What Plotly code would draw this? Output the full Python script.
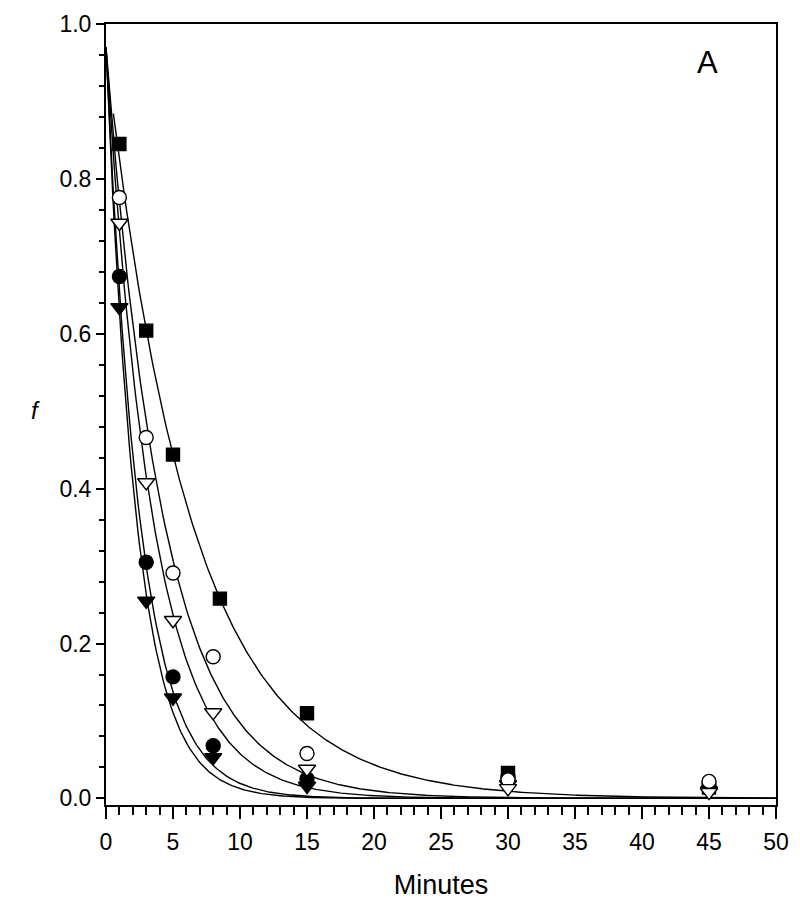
import numpy as np
import plotly.graph_objects as go

# Data (time in minutes, fraction f)
t_sq = [1, 3, 5, 8.5, 15, 30, 45]
f_sq = [0.845, 0.604, 0.444, 0.258, 0.110, 0.033, 0.014]

t_oc = [1, 3, 5, 8, 15, 30, 45]
f_oc = [0.776, 0.466, 0.291, 0.183, 0.058, 0.024, 0.022]

t_ot = [1, 3, 5, 8, 15, 30, 45]
f_ot = [0.743, 0.408, 0.230, 0.111, 0.038, 0.013, 0.008]

t_fc = [1, 3, 5, 8, 15, 30, 45]
f_fc = [0.674, 0.305, 0.157, 0.068, 0.025, 0.028, 0.017]

t_ft = [1, 3, 5, 8, 15, 30, 45]
f_ft = [0.634, 0.255, 0.130, 0.053, 0.016, 0.018, 0.010]

# Fitted single-exponential curves f = A*exp(-k t)
fit_A = [0.963, 0.97, 0.97, 0.97, 0.97]
fit_k = [0.155, 0.230, 0.282, 0.391, 0.434]
fit_t0 = [0.55, 0.0, 0.0, 0.0, 0.0]

fig = go.Figure()

for A, k, t0 in zip(fit_A, fit_k, fit_t0):
    tt = np.linspace(t0, 50, 400)
    fig.add_trace(go.Scatter(x=tt, y=A * np.exp(-k * tt), mode="lines",
                             line=dict(color="black", width=1.4),
                             hoverinfo="skip", showlegend=False))

series = [
    (t_sq, f_sq, "square", "black", 13),
    (t_fc, f_fc, "circle", "black", 14),
    (t_ft, f_ft, "triangle-down", "black", 15),
    (t_oc, f_oc, "circle", "white", 14),
    (t_ot, f_ot, "triangle-down", "white", 15),
]
for x, y, sym, fill, sz in series:
    fig.add_trace(go.Scatter(x=x, y=y, mode="markers",
                             marker=dict(symbol=sym, size=sz, color=fill,
                                         line=dict(color="black", width=1.4)),
                             showlegend=False))

font = "Liberation Sans, Arial, sans-serif"
fig.update_layout(
    width=784, height=893,
    margin=dict(l=98, r=16, t=16, b=96),
    paper_bgcolor="white", plot_bgcolor="white",
    font=dict(family=font, size=23, color="black"),
    xaxis=dict(range=[0, 50], tick0=0, dtick=5, showgrid=False, zeroline=False,
               automargin=False,
               showline=True, linecolor="black", linewidth=2, mirror=True,
               ticks="outside", ticklen=12, tickwidth=1.5, tickcolor="black",
               minor=dict(dtick=1, ticks="outside", ticklen=8, tickwidth=1.5,
                          tickcolor="black", showgrid=False),
               tickfont=dict(size=23),
               ticklabelstandoff=3,
               title=dict(text="Minutes", font=dict(size=27), standoff=22)),
    yaxis=dict(range=[-0.0085, 1.0], tick0=0, dtick=0.2, tickformat=".1f",
               showgrid=False, zeroline=False, automargin=False,
               showline=True, linecolor="black", linewidth=2, mirror=True,
               ticks="outside", ticklen=8, tickwidth=1.5, tickcolor="black",
               minor=dict(dtick=0.04, ticks="outside", ticklen=5, tickwidth=1.5,
                          tickcolor="black", showgrid=False),
               tickfont=dict(size=23),
               ticklabelstandoff=0),
    annotations=[
        dict(text="<i>f</i>", xref="paper", yref="paper", x=-0.105, y=0.505,
             xanchor="center", yanchor="middle", showarrow=False,
             font=dict(size=24)),
        dict(text="A", xref="x", yref="y", x=44.9, y=0.95, xanchor="center",
             yanchor="middle", showarrow=False, font=dict(size=31)),
    ],
)

fig.write_html("out.html")
